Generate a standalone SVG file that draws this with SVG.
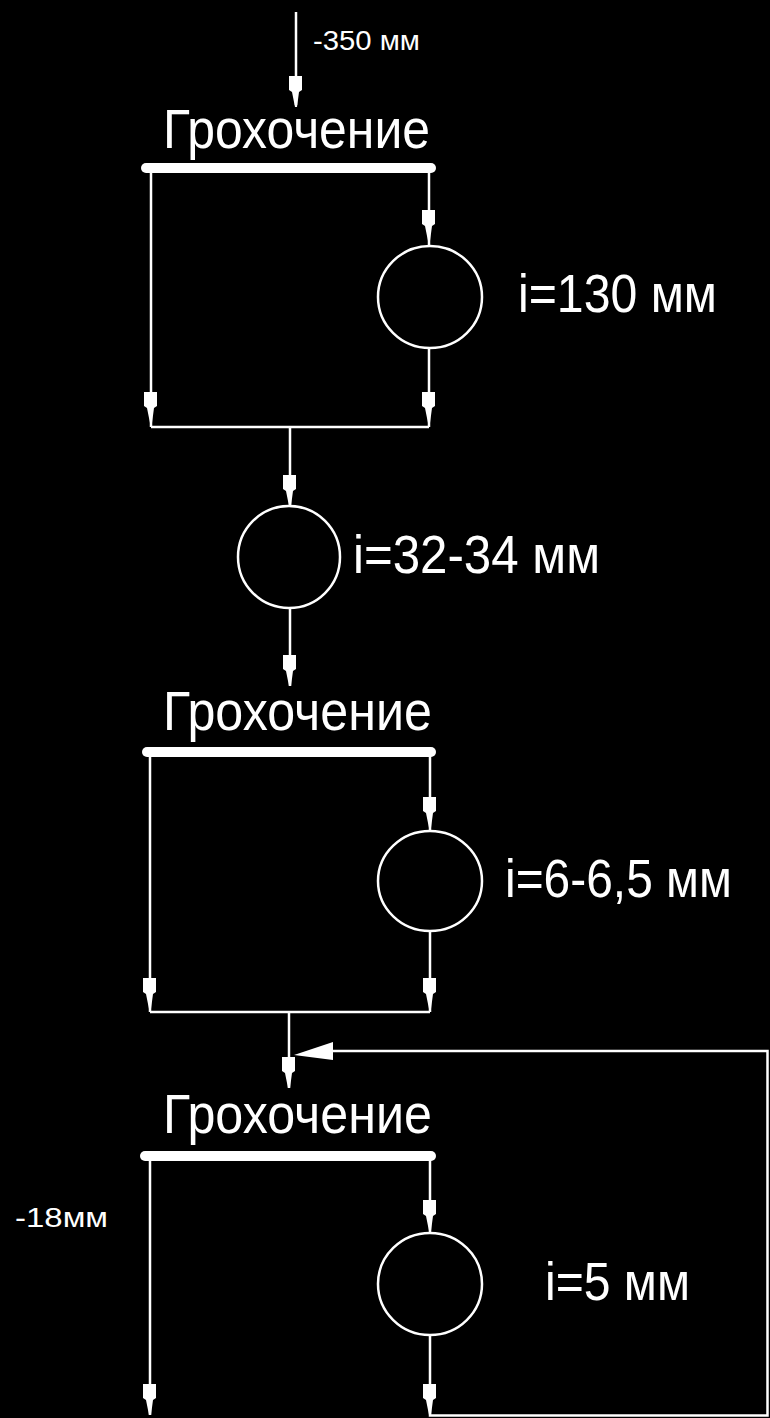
<svg xmlns="http://www.w3.org/2000/svg" xmlns:xlink="http://www.w3.org/1999/xlink" width="770" height="1418" viewBox="0 0 770 1418">
<defs>
<style>
.bg{fill:#000}
.ln{stroke:#fff;stroke-width:2.5;fill:none}
.bar{stroke:#fff;stroke-width:10;stroke-linecap:round}
.crusher{fill:none;stroke:#fff;stroke-width:2.5}
.ah{fill:#fff}
text{fill:#fff;font-family:"Liberation Sans","DejaVu Sans",sans-serif}
.t-big{font-size:55px}
.t-lab{font-size:54px}
.t-small{font-size:28px}
</style>
<path id="ahd" d="M-7,-31 H6 V-17 L3,-15 L1,0 H-1 L-4,-15 L-7,-17 Z"/>
</defs>
<rect class="bg" x="0" y="0" width="770" height="1418"/>

<g id="connectors">
  <line class="ln" x1="296" y1="12" x2="296" y2="105"/>
  <line class="ln" x1="151" y1="168" x2="151" y2="427"/>
  <line class="ln" x1="429" y1="168" x2="429" y2="246"/>
  <line class="ln" x1="429" y1="348" x2="429" y2="427"/>
  <line class="ln" x1="151" y1="427" x2="429" y2="427"/>
  <line class="ln" x1="290" y1="427" x2="290" y2="506"/>
  <line class="ln" x1="290" y1="608" x2="290" y2="686"/>
  <line class="ln" x1="150" y1="752" x2="150" y2="1012"/>
  <line class="ln" x1="430" y1="752" x2="430" y2="830"/>
  <line class="ln" x1="430" y1="931" x2="430" y2="1012"/>
  <line class="ln" x1="150" y1="1012" x2="430" y2="1012"/>
  <line class="ln" x1="289" y1="1012" x2="289" y2="1088"/>
  <line class="ln" x1="150" y1="1156" x2="150" y2="1415"/>
  <line class="ln" x1="430" y1="1156" x2="430" y2="1233"/>
  <polyline class="ln" points="430,1335 430,1415.5 767.5,1415.5 767.5,1051 330,1051"/>
  <g class="ah">
    <use xlink:href="#ahd" x="296" y="107"/>
    <use xlink:href="#ahd" x="429" y="241"/>
    <use xlink:href="#ahd" x="151" y="423"/>
    <use xlink:href="#ahd" x="429" y="423"/>
    <use xlink:href="#ahd" x="290" y="506"/>
    <use xlink:href="#ahd" x="290" y="686"/>
    <use xlink:href="#ahd" x="430" y="828"/>
    <use xlink:href="#ahd" x="150" y="1009"/>
    <use xlink:href="#ahd" x="430" y="1009"/>
    <use xlink:href="#ahd" x="289" y="1088"/>
    <use xlink:href="#ahd" x="430" y="1231"/>
    <use xlink:href="#ahd" x="150" y="1415"/>
    <use xlink:href="#ahd" x="430" y="1415"/>
    <polygon points="294,1055 333,1042 333,1060"/>
  </g>
</g>

<g id="feed-label">
  <text class="t-small" x="313" y="50" textLength="107" lengthAdjust="spacingAndGlyphs">-350 мм</text>
</g>

<g id="screen1">
  <text class="t-big" x="163" y="148" textLength="267" lengthAdjust="spacingAndGlyphs">Грохочение</text>
  <line class="bar" x1="146" y1="168" x2="431" y2="168"/>
</g>

<g id="crusher1">
  <ellipse class="crusher" cx="430" cy="297" rx="52" ry="51"/>
  <text class="t-lab" x="518" y="312" textLength="199" lengthAdjust="spacingAndGlyphs">i=130 мм</text>
</g>

<g id="crusher2">
  <ellipse class="crusher" cx="289" cy="557" rx="51" ry="51"/>
  <text class="t-lab" x="353" y="573" textLength="247" lengthAdjust="spacingAndGlyphs">i=32-34 мм</text>
</g>

<g id="screen2">
  <text class="t-big" x="163" y="730" textLength="269" lengthAdjust="spacingAndGlyphs">Грохочение</text>
  <line class="bar" x1="147" y1="752" x2="431" y2="752"/>
</g>

<g id="crusher3">
  <ellipse class="crusher" cx="430" cy="881" rx="52" ry="50"/>
  <text class="t-lab" x="505" y="897" textLength="227" lengthAdjust="spacingAndGlyphs">i=6-6,5 мм</text>
</g>

<g id="screen3">
  <text class="t-big" x="163" y="1133" textLength="269" lengthAdjust="spacingAndGlyphs">Грохочение</text>
  <line class="bar" x1="145" y1="1156" x2="431" y2="1156"/>
  <text class="t-small" x="15" y="1227" textLength="93" lengthAdjust="spacingAndGlyphs">-18мм</text>
</g>

<g id="crusher4">
  <ellipse class="crusher" cx="430" cy="1284" rx="52" ry="51"/>
  <text class="t-lab" x="545" y="1300" textLength="145" lengthAdjust="spacingAndGlyphs">i=5 мм</text>
</g>
</svg>
